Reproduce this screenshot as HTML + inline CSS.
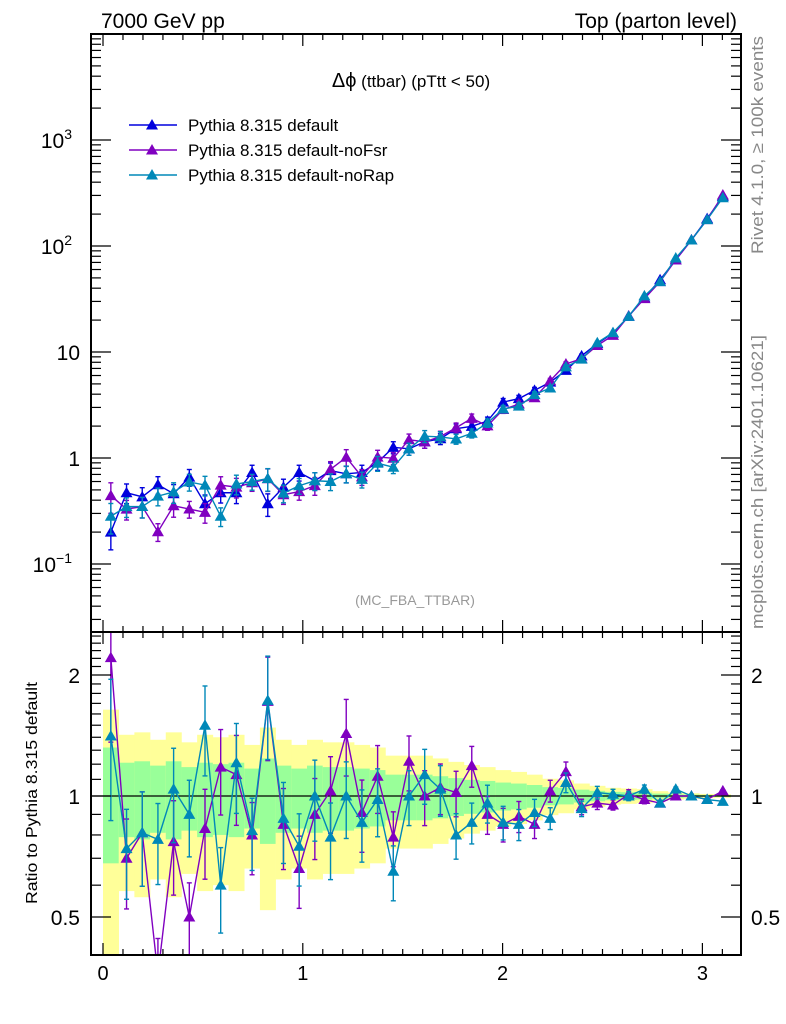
<!DOCTYPE html>
<html><head><meta charset="utf-8"><style>
body{margin:0;background:#fff}
svg{display:block;font-family:"Liberation Sans",sans-serif}
</style></head><body>
<svg id="c" width="786" height="1024" viewBox="0 0 786 1024"></svg>
<script>
const binCenters=[];for(let i=0;i<40;i++)binCenters.push(Math.PI/40*(i+0.5));
const defaultVals=[0.20,0.47,0.43,0.56,0.46,0.66,0.37,0.47,0.47,0.73,0.37,0.53,0.73,0.61,0.76,0.71,0.73,0.91,1.26,1.22,1.42,1.52,1.89,1.99,2.23,3.37,3.63,4.35,5.2,6.7,9.2,12.0,15.1,21.7,32.5,48,74,114,181,294];
const relErr=[0.32,0.21,0.22,0.19,0.22,0.18,0.21,0.20,0.21,0.17,0.24,0.19,0.17,0.19,0.18,0.18,0.17,0.16,0.13,0.13,0.13,0.12,0.108,0.097,0.09,0.08,0.074,0.065,0.052,0.047,0.037,0.03,0.024,0.022,0.02,0.014,0.01,0.008,0.006,0.005];
const ratioNoFsr=[2.21,0.70,0.81,0.36,0.77,0.50,0.83,1.18,1.13,0.80,1.72,0.85,0.66,0.90,1.03,1.43,0.91,1.12,0.79,1.22,1.0,1.05,1.02,1.19,0.90,0.85,0.89,0.85,1.03,1.15,0.94,0.96,0.95,1.01,0.98,0.96,1.0,1.0,0.98,1.03];
const ratioNoRap=[1.41,0.74,0.81,0.78,1.04,0.90,1.50,0.60,1.21,0.82,1.73,0.88,0.75,1.0,0.79,1.0,0.86,0.98,0.65,1.0,1.13,1.04,0.80,0.86,0.96,0.86,0.85,0.91,0.88,1.08,0.93,1.02,1.01,1.0,1.04,0.96,1.04,1.0,0.98,0.97];
const xTicks=[0,1,2,3];
const yTicksMain=[0.1,1,10,100,1000];
const yTicksRatio=[0.5,1,2];

const S=document.getElementById('c');const NS='http://www.w3.org/2000/svg';
function el(t,a,p){const e=document.createElementNS(NS,t);for(const k in a)e.setAttribute(k,a[k]);(p||S).appendChild(e);return e;}
const L=91,R=741,T=34,M=632,B=955;
const X=v=>103+199.8*v;
const Ym=v=>458-106*Math.log10(v);
const Yr=v=>796-121*Math.log2(v);
const bw=Math.PI/40;
const defs=el('defs',{});
const c1=el('clipPath',{id:'cm'},defs);el('rect',{x:L,y:T,width:R-L,height:M-T},c1);
const c2=el('clipPath',{id:'cr'},defs);el('rect',{x:L,y:M,width:R-L,height:B-M},c2);
const gb=el('g',{'clip-path':'url(#cr)'});


binCenters.forEach((c,i)=>{const x0=X(c-bw/2),x1=X(c+bw/2),e=relErr[i];
 const y=el('rect',{x:x0,width:x1-x0+0.3,y:Yr(1+2*e),height:Yr(Math.max(1-2*e,0.01))-Yr(1+2*e),fill:'#ffff99'},gb);
 
 
 const g=el('rect',{x:x0,width:x1-x0+0.3,y:Yr(1+e),height:Yr(1-e)-Yr(1+e),fill:'#99ff99'},gb);
 
 });
el('line',{x1:L,x2:R,y1:Yr(1),y2:Yr(1),stroke:'#000','stroke-width':1.3,'clip-path':'url(#cr)'});
function tri(x,y,col,p){const t=el('polygon',{points:`${x},${y-6} ${x-6},${y+4.5} ${x+6},${y+4.5}`,fill:col},p);
 
 }
function series(vals,errs,col,Y,clip,name){const g=el('g',{'clip-path':clip});
 
 
 el('polyline',{points:vals.map((v,i)=>X(binCenters[i])+','+Y(v)).join(' '),fill:'none',stroke:col,'stroke-width':1.4},g);
 vals.forEach((v,i)=>{const x=X(binCenters[i]),e=errs[i];const yt=Y(v*(1+e)),yb=Y(Math.max(v*(1-e),1e-3));
  el('line',{x1:x,x2:x,y1:yt,y2:yb,stroke:col,'stroke-width':1.4},g);
  el('line',{x1:x-2.5,x2:x+2.5,y1:yt,y2:yt,stroke:col,'stroke-width':1.4},g);
  el('line',{x1:x-2.5,x2:x+2.5,y1:yb,y2:yb,stroke:col,'stroke-width':1.4},g);
  tri(x,Y(v),col,g);});}
const cB='#0000dd',cP='#8000c0',cC='#0088b8';
const errR=relErr.map(e=>e*1.2);
series(defaultVals,relErr,cB,Ym,'url(#cm)','series-default');
series(defaultVals.map((v,i)=>v*ratioNoFsr[i]),relErr,cP,Ym,'url(#cm)','series-nofsr');
series(defaultVals.map((v,i)=>v*ratioNoRap[i]),relErr,cC,Ym,'url(#cm)','series-norap');
series(ratioNoFsr,errR,cP,Yr,'url(#cr)','ratio-nofsr');
series(ratioNoRap,errR,cC,Yr,'url(#cr)','ratio-norap');
el('rect',{x:L,y:T,width:R-L,height:M-T,fill:'none',stroke:'#000','stroke-width':2});
el('rect',{x:L,y:M,width:R-L,height:B-M,fill:'none',stroke:'#000','stroke-width':2});
for(let k=0;k<=31;k++){const v=k/10,x=X(v);if(x>R)break;const big=k%10==0;const h=big?12:6;
 [[T,1],[M,-1],[M,1],[B,-1]].forEach(([y0,d])=>el('line',{x1:x,x2:x,y1:y0,y2:y0+d*h,stroke:'#000','stroke-width':1.2}));}
xTicks.forEach(v=>{const t=el('text',{x:X(v),y:980,'font-size':20,'text-anchor':'middle'});t.textContent=v;
 
 });
for(let d=-2;d<=3;d++)for(let m=1;m<=9;m++){const v=m*Math.pow(10,d),y=Ym(v);if(y<T||y>M)continue;const h=m==1?20:10;
 el('line',{x1:L,x2:L+h,y1:y,y2:y,stroke:'#000','stroke-width':1.2});el('line',{x1:R,x2:R-h,y1:y,y2:y,stroke:'#000','stroke-width':1.2});}
const labs={0.1:['10','−1'],1:['1',''],10:['10',''],100:['10','2'],1000:['10','3']};
yTicksMain.forEach(v=>{const t=el('text',{x:v==1||v==10?80:72,y:Ym(v)+8,'font-size':21,'text-anchor':'end'});
 
 
 t.textContent=labs[v][0];if(labs[v][1]){const s=el('tspan',{'font-size':14,dy:-9},t);s.textContent=labs[v][1];}});
[0.4,0.5,0.6,0.7,0.8,0.9,1,1.1,1.2,1.3,1.4,1.5,1.6,1.7,1.8,1.9,2,2.1,2.2,2.3,2.4,2.5].forEach(v=>{const y=Yr(v);if(y<M||y>B)return;const h=(v==1||v==2||v==0.5)?20:10;
 el('line',{x1:L,x2:L+h,y1:y,y2:y,stroke:'#000','stroke-width':1.2});el('line',{x1:R,x2:R-h,y1:y,y2:y,stroke:'#000','stroke-width':1.2});});
yTicksRatio.forEach(v=>{const a=el('text',{x:80,y:Yr(v)+8,'font-size':21,'text-anchor':'end'});a.textContent=v;
 
 
 const b=el('text',{x:751,y:Yr(v)+8,'font-size':21});b.textContent=v;
 
 });
</script>
<svg width="786" height="1024" style="position:absolute;left:0;top:0">
<g font-family="Liberation Sans, sans-serif">
<text x="101" y="28" font-size="21">7000 GeV pp</text>
<text x="737" y="28" font-size="21" text-anchor="end">Top (parton level)</text>
<text x="411" y="87" font-size="17" text-anchor="middle"><tspan font-size="20">Δϕ</tspan> (ttbar) (pTtt &lt; 50)</text>
<g>
<line x1="129" x2="177" y1="125" y2="125" stroke="#0000dd" stroke-width="1.4"/><polygon points="152,119 146,129.5 158,129.5" fill="#0000dd"/>
<text x="188" y="131" font-size="17">Pythia 8.315 default</text>
<line x1="129" x2="177" y1="150" y2="150" stroke="#8000c0" stroke-width="1.4"/><polygon points="152,144 146,154.5 158,154.5" fill="#8000c0"/>
<text x="188" y="156" font-size="17">Pythia 8.315 default-noFsr</text>
<line x1="129" x2="177" y1="175" y2="175" stroke="#0088b8" stroke-width="1.4"/><polygon points="152,169 146,179.5 158,179.5" fill="#0088b8"/>
<text x="188" y="181" font-size="17">Pythia 8.315 default-noRap</text>
</g>
<text x="415" y="605" font-size="14" fill="#999" text-anchor="middle">(MC_FBA_TTBAR)</text>
<text transform="translate(763,145) rotate(-90)" font-size="17" fill="#888" text-anchor="middle" textLength="218" lengthAdjust="spacingAndGlyphs">Rivet 4.1.0, ≥ 100k events</text>
<text transform="translate(763,482) rotate(-90)" font-size="17" fill="#888" text-anchor="middle" textLength="294" lengthAdjust="spacingAndGlyphs">mcplots.cern.ch [arXiv:2401.10621]</text>
<text transform="translate(37,793) rotate(-90)" font-size="16" text-anchor="middle" textLength="222" lengthAdjust="spacingAndGlyphs">Ratio to Pythia 8.315 default</text>
</g></svg>
</body></html>
